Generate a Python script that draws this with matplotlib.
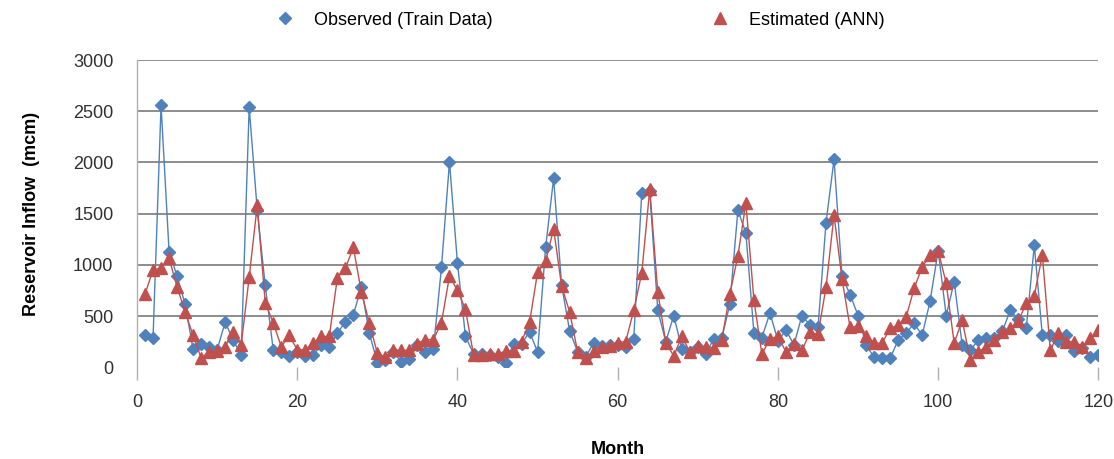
import numpy as np
import matplotlib.pyplot as plt

plt.rcParams['font.family'] = ['Liberation Sans', 'DejaVu Sans']

# ------------ Data ------------
MONTHS = list(range(1, 121))

OBSERVED = [
    310, 290, 2560, 1130, 890, 615, 175, 230, 200, 170,      # 1-10
    440, 265, 120, 2540, 1540, 800, 170, 150, 110, 150,      # 11-20
    110, 120, 215, 200, 330, 445, 510, 785, 330, 45,         # 21-30
    70, 150, 50, 80, 215, 150, 180, 975, 2005, 1015,         # 31-40
    300, 130, 130, 120, 100, 40, 230, 230, 345, 150,         # 41-50
    1170, 1845, 800, 355, 150, 100, 240, 210, 220, 220,      # 51-60
    200, 280, 1700, 1720, 555, 250, 505, 180, 150, 200,      # 61-70
    130, 280, 290, 615, 1535, 1310, 335, 290, 530, 260,      # 71-80
    360, 220, 505, 410, 390, 1410, 2030, 890, 710, 505,      # 81-90
    215, 100, 85, 85, 265, 330, 430, 310, 650, 1140,         # 91-100
    505, 835, 215, 165, 265, 290, 290, 350, 555, 470,        # 101-110
    385, 1190, 310, 310, 260, 310, 160, 190, 100, 115,       # 111-120
]

ESTIMATED = [
    715, 950, 970, 1065, 785, 540, 310, 90, 150, 160,        # 1-10
    200, 345, 215, 880, 1580, 630, 435, 200, 310, 170,       # 11-20
    170, 240, 300, 300, 870, 965, 1170, 735, 430, 135,       # 21-30
    100, 165, 165, 165, 230, 270, 270, 435, 890, 750,        # 31-40
    565, 120, 120, 125, 125, 160, 160, 250, 440, 930,        # 41-50
    1035, 1350, 790, 540, 150, 85, 160, 200, 210, 240,       # 51-60
    250, 555, 920, 1740, 735, 240, 110, 300, 150, 210,       # 61-70
    200, 190, 270, 720, 1085, 1605, 655, 125, 280, 300,      # 71-80
    150, 230, 165, 340, 320, 780, 1485, 860, 390, 400,       # 81-90
    300, 235, 235, 380, 410, 490, 770, 980, 1095, 1140,      # 91-100
    820, 235, 460, 70, 150, 200, 270, 340, 380, 450,         # 101-110
    625, 700, 1095, 165, 330, 250, 250, 200, 290, 360,       # 111-120
]

X_TICKS = [0, 20, 40, 60, 80, 100, 120]
Y_TICKS = [0, 500, 1000, 1500, 2000, 2500, 3000]

BLUE = '#4f81bd'
RED = '#c0504d'
GRID = '#8c8c8c'

fig = plt.figure(figsize=(11.14, 4.59), dpi=100)
ax = fig.add_axes([0.123, 0.200, 0.863, 0.669])

ax.plot(MONTHS, OBSERVED, color=BLUE, lw=1.0, marker='D', ms=6.5,
        mec=BLUE, mfc=BLUE, label='Observed (Train Data)', zorder=3)
ax.plot(MONTHS, ESTIMATED, color=RED, lw=1.0, marker='^', ms=8,
        mec=RED, mfc=RED, label='Estimated (ANN)', zorder=4)

ax.set_xlim(0, 120)
ax.set_ylim(0, 3000)
ax.set_xticks(X_TICKS)
ax.set_yticks(Y_TICKS)

# Excel-like horizontal gridlines (none at zero)
for y in Y_TICKS[1:]:
    ax.axhline(y, color=GRID, lw=1.4, zorder=1)

for side in ('top', 'right', 'bottom'):
    ax.spines[side].set_visible(False)
ax.spines['left'].set_color('#b0b0b0')
ax.spines['left'].set_linewidth(1.0)

ax.tick_params(axis='x', direction='out', length=9, width=1.0, color='#b0b0b0',
               labelsize=13, pad=10, labelcolor='#303030')
ax.tick_params(axis='y', direction='out', length=0, labelsize=13, pad=17,
               labelcolor='#303030')

ax.set_xlabel('Month', fontsize=13, fontweight='bold', labelpad=22)
ax.set_ylabel('Reservoir Inflow  (mcm)', fontsize=13, fontweight='bold', labelpad=24)

fig.legend(loc='upper center', bbox_to_anchor=(0.52, 1.01), ncol=2,
           frameon=False, fontsize=13, columnspacing=12, handletextpad=1.0,
           handlelength=1.2)
for line in fig.legends[0].get_lines():
    line.set_linestyle('')

fig.savefig('out.png', dpi=100)
